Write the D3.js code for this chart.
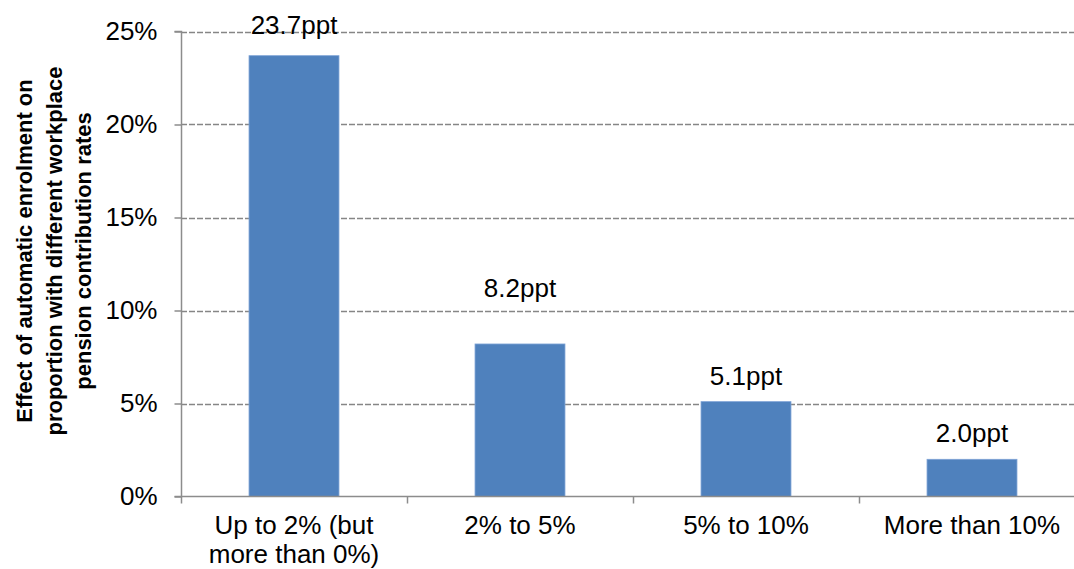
<!DOCTYPE html>
<html>
<head>
<meta charset="utf-8">
<script src="https://cdn.jsdelivr.net/npm/d3@7/dist/d3.min.js"></script>
<style>
  html, body { margin: 0; padding: 0; background: #fff; }
  svg { display: block; font-family: "Liberation Sans", Arial, sans-serif; }
</style>
</head>
<body>
<svg id="chart" width="1074" height="569"></svg>
<script>
// Contribution-rate bands (each label split into display lines)
const categories = [
  ["Up to 2% (but", "more than 0%)"],
  ["2% to 5%"],
  ["5% to 10%"],
  ["More than 10%"]
];
// Effect of automatic enrolment, percentage points
const values = [23.7, 8.2, 5.1, 2.0];
const valueLabels = ["23.7ppt", "8.2ppt", "5.1ppt", "2.0ppt"];
const yTicks = [0, 5, 10, 15, 20, 25];
const yTitle = [
  "Effect of automatic enrolment on",
  "proportion with different workplace",
  "pension contribution rates"
];

// Layout
const W = 1074, H = 569;
const plot = { left: 181, right: 1085, top: 31.5, bottom: 496.5 };
const labelLift = [22, 47, 17, 17];   // distance of each value label above its bar

const svg = d3.select("#chart");

const x = d3.scaleBand()
  .domain(d3.range(categories.length))
  .range([plot.left, plot.right])
  .paddingInner(0.602)
  .paddingOuter(0.301);

const y = d3.scaleLinear()
  .domain([0, 25])
  .range([plot.bottom, plot.top]);

// Dashed horizontal gridlines
svg.append("g")
  .selectAll("line")
  .data(yTicks.filter(d => d > 0))
  .join("line")
  .attr("x1", plot.left)
  .attr("x2", W)
  .attr("y1", d => Math.round(y(d)) + 0.5)
  .attr("y2", d => Math.round(y(d)) + 0.5)
  .attr("stroke", "#868686")
  .attr("stroke-width", 1.5)
  .attr("stroke-dasharray", "6,2");

// Bars
svg.append("g")
  .selectAll("rect")
  .data(values)
  .join("rect")
  .attr("x", (d, i) => x(i))
  .attr("width", x.bandwidth())
  .attr("y", d => y(d))
  .attr("height", d => y(0) - y(d))
  .attr("fill", "#4f81bd")
  .attr("stroke", "#7ea3d6")
  .attr("stroke-width", 0.8);

// Y axis
const yAxis = d3.axisLeft(y)
  .tickValues(yTicks)
  .tickFormat(d => d + "%")
  .tickSize(7)
  .tickPadding(17);

const gy = svg.append("g")
  .attr("transform", `translate(${plot.left + 0.5},0)`)
  .call(yAxis);
gy.select(".domain").attr("stroke", "#8c8c8c").attr("stroke-width", 1.5)
  .attr("d", `M-7,${y(25)}H0V${y(0)}H-7`);
gy.selectAll(".tick line").attr("stroke", "#8c8c8c").attr("stroke-width", 1.5);
gy.selectAll(".tick text")
  .attr("fill", "#000")
  .attr("font-size", 26)
  .attr("font-family", "Liberation Sans, Arial, sans-serif");

// X axis
const xAxisLine = svg.append("g");
xAxisLine.append("line")
  .attr("x1", plot.left).attr("x2", W)
  .attr("y1", plot.bottom).attr("y2", plot.bottom)
  .attr("stroke", "#8c8c8c").attr("stroke-width", 1.5);
// category boundary ticks
const bounds = d3.range(categories.length + 1).map(i => plot.left + i * x.step());
xAxisLine.selectAll("line.bt")
  .data(bounds)
  .join("line")
  .attr("class", "bt")
  .attr("x1", d => d + 0.5).attr("x2", d => d + 0.5)
  .attr("y1", plot.bottom).attr("y2", plot.bottom + 7)
  .attr("stroke", "#8c8c8c").attr("stroke-width", 1.5);

// Category labels
const catG = svg.append("g");
categories.forEach((lines, i) => {
  const t = catG.append("text")
    .attr("x", x(i) + x.bandwidth() / 2)
    .attr("y", 534)
    .attr("text-anchor", "middle")
    .attr("font-size", 26)
    .attr("fill", "#000");
  lines.forEach((ln, j) => {
    t.append("tspan")
      .attr("x", x(i) + x.bandwidth() / 2)
      .attr("dy", j === 0 ? 0 : 29)
      .text(ln);
  });
});

// Value labels
svg.append("g")
  .selectAll("text")
  .data(values)
  .join("text")
  .attr("x", (d, i) => x(i) + x.bandwidth() / 2)
  .attr("y", (d, i) => y(d) - labelLift[i])
  .attr("text-anchor", "middle")
  .attr("font-size", 26)
  .attr("fill", "#000")
  .text((d, i) => valueLabels[i]);

// Y axis title
const title = svg.append("text")
  .attr("transform", `translate(32,251) rotate(-90)`)
  .attr("text-anchor", "middle")
  .attr("font-size", 22)
  .attr("font-weight", "bold")
  .attr("fill", "#000");
yTitle.forEach((ln, j) => {
  title.append("tspan")
    .attr("x", 0)
    .attr("dy", j === 0 ? 0 : 29.5)
    .text(ln);
});
</script>
</body>
</html>
